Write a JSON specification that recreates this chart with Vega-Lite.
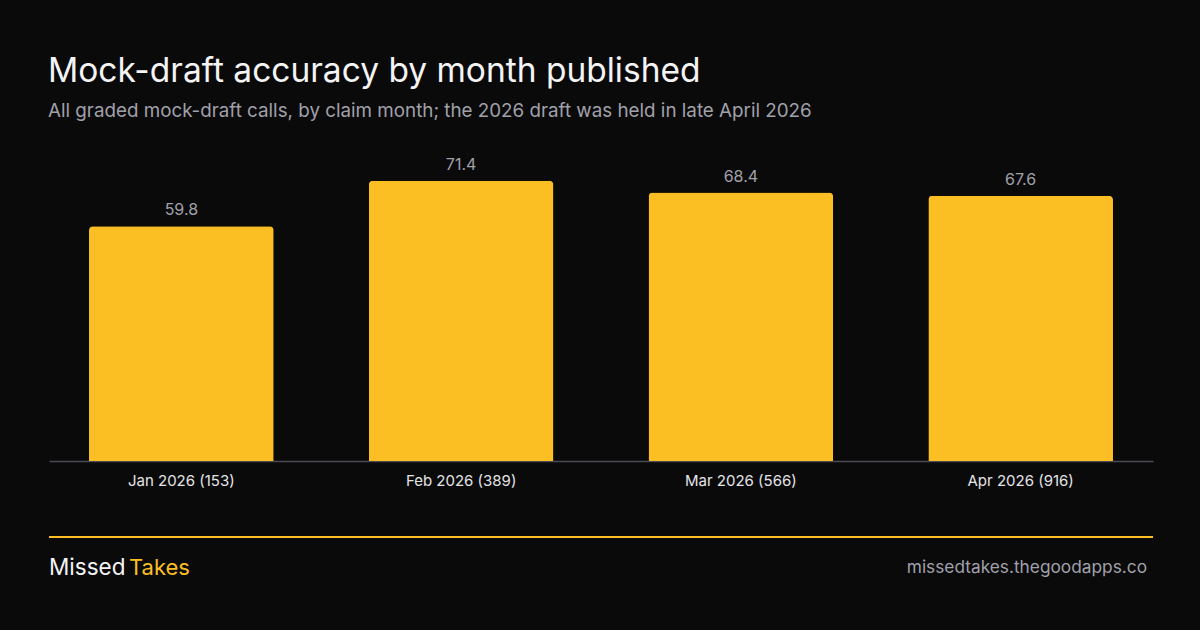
{
  "$schema": "https://vega.github.io/schema/vega-lite/v6.json",
  "description": "Mock-draft accuracy by month published, with branded footer.",
  "background": "#0a0a0a",
  "padding": {"left": 48, "right": 48, "top": 54, "bottom": 80},
  "config": {
    "view": {"stroke": null},
    "font": "Inter",
    "concat": {"spacing": 48}
  },
  "title": {
    "text": "Mock-draft accuracy by month published",
    "subtitle": "All graded mock-draft calls, by claim month; the 2026 draft was held in late April 2026",
    "anchor": "start",
    "font": "Inter",
    "fontSize": 33.5,
    "fontWeight": "normal",
    "color": "#f4f4f5",
    "subtitleFont": "Inter",
    "subtitleFontSize": 18.8,
    "subtitleColor": "#a1a1aa",
    "subtitlePadding": 13,
    "offset": 25
  },
  "datasets": {
    "months": [
      {"month": "Jan 2026 (153)", "accuracy": 59.8},
      {"month": "Feb 2026 (389)", "accuracy": 71.4},
      {"month": "Mar 2026 (566)", "accuracy": 68.4},
      {"month": "Apr 2026 (916)", "accuracy": 67.6}
    ],
    "footer": [
      {"brand_a": "Missed", "brand_b": "Takes", "site": "missedtakes.thegoodapps.co"}
    ]
  },
  "vconcat": [
    {
      "width": 1104,
      "height": 314,
      "data": {"name": "months"},
      "encoding": {
        "x": {
          "field": "month",
          "type": "nominal",
          "sort": null,
          "title": null,
          "scale": {"paddingInner": 0.34, "paddingOuter": 0.143},
          "axis": {
            "labelAngle": 0,
            "labelFont": "Inter",
            "labelFontSize": 15,
            "labelColor": "#e4e4e7",
            "labelPadding": 12,
            "ticks": false,
            "domainColor": "#4a4a55",
            "domainWidth": 1.5,
            "grid": false
          }
        },
        "y": {
          "field": "accuracy",
          "type": "quantitative",
          "scale": {"domain": [0, 80]},
          "axis": null
        }
      },
      "layer": [
        {
          "mark": {
            "type": "bar",
            "color": "#fbbf24",
            "cornerRadiusTopLeft": 4,
            "cornerRadiusTopRight": 4
          }
        },
        {
          "mark": {
            "type": "text",
            "baseline": "alphabetic",
            "dy": -11,
            "font": "Inter",
            "fontSize": 16,
            "color": "#a1a1aa"
          },
          "encoding": {"text": {"field": "accuracy", "type": "quantitative", "format": ".1f"}}
        }
      ]
    },
    {
      "width": 1104,
      "height": 31,
      "data": {"name": "footer"},
      "layer": [
        {
          "mark": {"type": "rule", "color": "#fbbf24", "strokeWidth": 2},
          "encoding": {
            "x": {"datum": 0, "type": "quantitative", "scale": {"domain": [0, 1]}, "axis": null},
            "x2": {"datum": 1},
            "y": {"datum": 1, "type": "quantitative", "scale": {"domain": [0, 1]}, "axis": null}
          }
        },
        {
          "mark": {"type": "text", "align": "left", "baseline": "middle", "font": "Inter", "fontSize": 22.5, "color": "#f4f4f5"},
          "encoding": {
            "x": {"datum": 0, "type": "quantitative", "scale": {"domain": [0, 1]}, "axis": null},
            "y": {"datum": 0, "type": "quantitative", "scale": {"domain": [0, 1]}, "axis": null},
            "text": {"field": "brand_a"}
          }
        },
        {
          "mark": {"type": "text", "align": "left", "baseline": "middle", "dx": 80, "font": "Inter", "fontSize": 22, "color": "#fbbf24"},
          "encoding": {
            "x": {"datum": 0, "type": "quantitative", "scale": {"domain": [0, 1]}, "axis": null},
            "y": {"datum": 0, "type": "quantitative", "scale": {"domain": [0, 1]}, "axis": null},
            "text": {"field": "brand_b"}
          }
        },
        {
          "mark": {"type": "text", "align": "right", "baseline": "middle", "dx": -6, "font": "Inter", "fontSize": 17.3, "color": "#a1a1aa"},
          "encoding": {
            "x": {"datum": 1, "type": "quantitative", "scale": {"domain": [0, 1]}, "axis": null},
            "y": {"datum": 0, "type": "quantitative", "scale": {"domain": [0, 1]}, "axis": null},
            "text": {"field": "site"}
          }
        }
      ]
    }
  ]
}
